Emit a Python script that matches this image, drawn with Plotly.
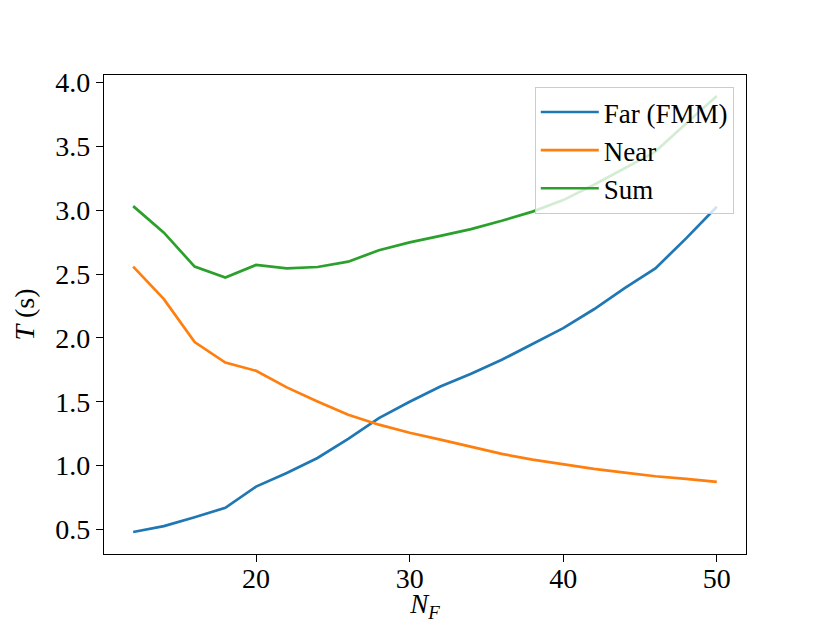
import plotly.graph_objects as go

# datos
n_f = [12, 14, 16, 18, 20, 22, 24, 26, 28, 30, 32, 34, 36, 38, 40, 42, 44, 46, 48, 50]
t_far = [0.48, 0.526, 0.596, 0.67, 0.836, 0.943, 1.06, 1.209, 1.373, 1.50,
         1.62, 1.72, 1.829, 1.954, 2.077, 2.225, 2.39, 2.545, 2.78, 3.028]
t_near = [2.559, 2.304, 1.968, 1.808, 1.743, 1.613, 1.503, 1.399, 1.321, 1.258,
          1.204, 1.147, 1.092, 1.047, 1.008, 0.975, 0.946, 0.917, 0.896, 0.873]
t_sum = [3.033, 2.825, 2.559, 2.473, 2.572, 2.546, 2.556, 2.598, 2.687, 2.749,
         2.80, 2.853, 2.918, 2.99, 3.08, 3.20, 3.33, 3.46, 3.68, 3.895]

FONT = "Liberation Serif"

fig = go.Figure()
fig.add_trace(go.Scatter(x=n_f, y=t_far, mode="lines", name="Far (FMM)",
                         line=dict(color="#1f77b4", width=2.7)))
fig.add_trace(go.Scatter(x=n_f, y=t_near, mode="lines", name="Near",
                         line=dict(color="#ff7f0e", width=2.7)))
fig.add_trace(go.Scatter(x=n_f, y=t_sum, mode="lines", name="Sum",
                         line=dict(color="#2ca02c", width=2.7)))

ejes = dict(showgrid=False, zeroline=False, showline=True, mirror=True,
            linecolor="black", linewidth=1.3, ticks="outside", ticklen=7,
            tickwidth=1.3, tickcolor="black", automargin=False,
            tickfont=dict(family=FONT, size=28, color="black"))

# la página tiene 8 px de margen en el body, se compensa aquí
fig.update_layout(
    width=822, height=615,
    margin=dict(l=96, r=84, t=67, b=69),
    paper_bgcolor="white", plot_bgcolor="white",
    font=dict(family=FONT, color="black"),
    xaxis=dict(range=[10.1, 51.9], tick0=0, dtick=10, ticklabelstandoff=-8,
               title=dict(text="<i>N</i><sub><i>F</i></sub>", standoff=2,
                          font=dict(family=FONT, size=27)), **ejes),
    yaxis=dict(range=[0.308, 4.06], tick0=0.5, dtick=0.5, tickformat=".1f",
               title=dict(text="<i>T</i> (s)", standoff=12,
                          font=dict(family=FONT, size=28)), **ejes),
    legend=dict(x=0.981, y=0.975, xanchor="right", yanchor="top",
                itemwidth=58,
                bgcolor="rgba(255,255,255,0.8)", bordercolor="#cccccc",
                borderwidth=1, font=dict(family=FONT, size=27, color="black")),
)

fig.write_html("out.html")
